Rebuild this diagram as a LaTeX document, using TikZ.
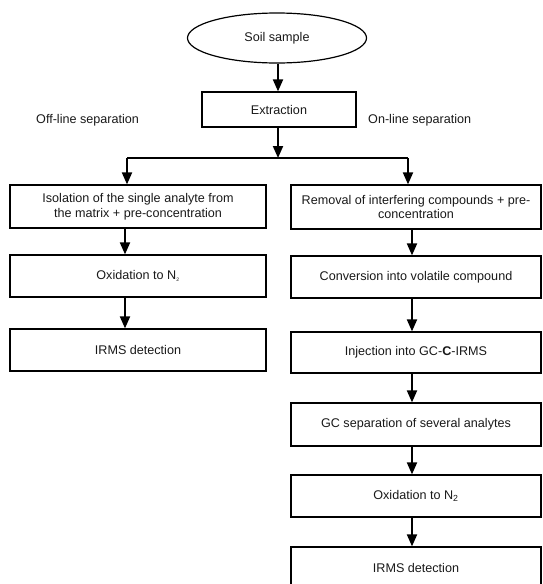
\documentclass[tikz,border=0pt]{standalone}
\usepackage{fontspec}
\setmainfont{Liberation Sans}
\usetikzlibrary{arrows.meta,shapes.geometric}
\begin{document}
\begin{tikzpicture}[x=1pt,y=-1pt,
  every node/.style={font=\fontsize{12.6}{14.5}\selectfont, inner sep=0pt, text=black!90},
  box/.style={draw, line width=1.2pt, rectangle, align=center},
  lbox/.style={box, minimum width=256pt},
  rbox/.style={box, minimum width=250pt},
  arr/.style={line width=1.9pt, -{Triangle[width=10pt,length=12pt]}},
  conn/.style={line width=1.6pt},
  lbl/.style={anchor=west}]
\useasboundingbox (0,0) rectangle (543,584);
\clip (0,0) rectangle (543,584);
\node[draw, ellipse, line width=1.2pt, minimum width=179pt, minimum height=50pt] (soil) at (277,38) {Soil sample};
\node[box, minimum width=154pt, minimum height=35pt] (extr) at (279,109.5) {Extraction};
\node[lbl] (off) at (36,120) {Off-line separation};
\node[lbl] (on) at (368,120) {On-line separation};
% left column
\node[lbox, minimum height=43pt] (L1) at (138,206.5) {Isolation of the single analyte from\\the matrix + pre-concentration};
\node[lbox, minimum height=42pt] (L2) at (138,276) {Oxidation to N\textsubscript{\tiny 2}};
\node[lbox, minimum height=42pt] (L3) at (138,350) {IRMS detection};
% right column
\node[rbox, minimum height=44pt] (R1) at (416,207) {Removal of interfering compounds + pre-\\concentration};
\node[rbox, minimum height=42pt] (R2) at (416,277) {Conversion into volatile compound};
\node[rbox, minimum height=41pt] (R3) at (416,352.5) {Injection into GC-\textbf{C}-IRMS};
\node[rbox, minimum height=43pt] (R4) at (416,424.5) {GC separation of several analytes};
\node[rbox, minimum height=42pt] (R5) at (416,496) {Oxidation to N\textsubscript{2}};
\node[rbox, minimum height=42pt] (R6) at (416,568) {IRMS detection};
% connectors
\coordinate (split) at (278,158);
\coordinate (lc) at (127,158);
\coordinate (rc) at (408,158);
\coordinate (lx) at (125,0);
\coordinate (rx) at (412,0);
\draw[arr] (soil.south -| split) -- (extr.north -| split);
\draw[arr] (extr.south -| split) -- (split);
\draw[conn] (lc) -- (rc);
\draw[arr] (lc) -- (L1.north -| lc);
\draw[arr] (rc) -- (R1.north -| rc);
\draw[arr] (L1.south -| lx) -- (L2.north -| lx);
\draw[arr] (L2.south -| lx) -- (L3.north -| lx);
\draw[arr] (R1.south -| rx) -- (R2.north -| rx);
\draw[arr] (R2.south -| rx) -- (R3.north -| rx);
\draw[arr] (R3.south -| rx) -- (R4.north -| rx);
\draw[arr] (R4.south -| rx) -- (R5.north -| rx);
\draw[arr] (R5.south -| rx) -- (R6.north -| rx);
\end{tikzpicture}
\end{document}
